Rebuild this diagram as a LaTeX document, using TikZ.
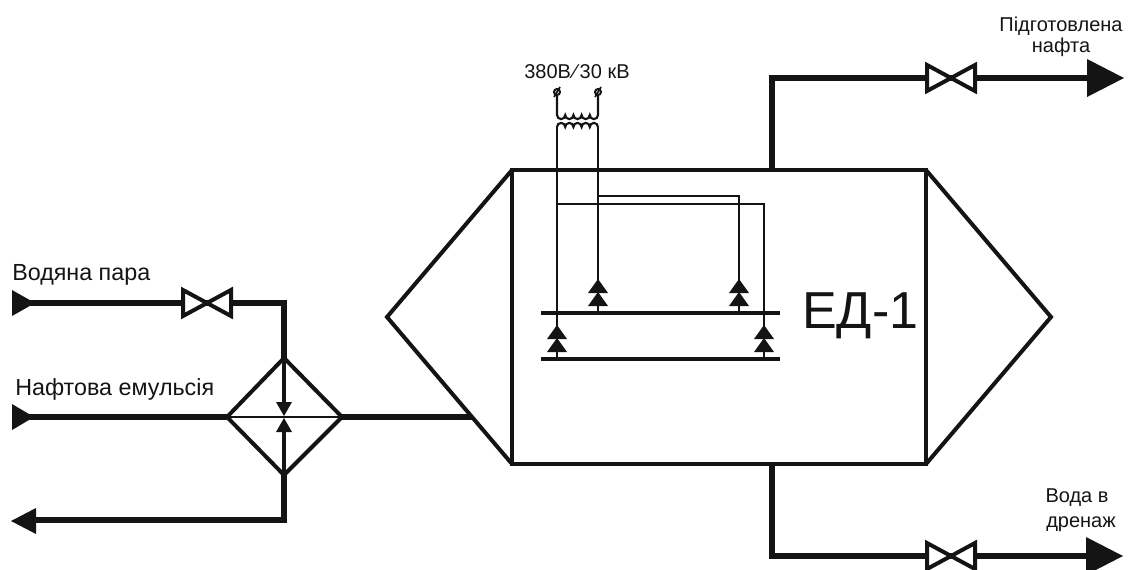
\documentclass[tikz,border=0pt]{standalone}
\usepackage{fontspec}
\setmainfont{Liberation Sans}
\newcommand{\pxfont}[1]{\fontsize{\fpeval{#1*0.75}}{\fpeval{#1*0.9}}\selectfont}
\newcommand{\valvebow}[2]{\draw[valveline] (#1-24,#2-13) -- (#1+24,#2+13) -- (#1+24,#2-13) -- (#1-24,#2+13) -- cycle;}
\newcommand{\twotri}[2]{%
 \fill[ink] (#1,#2) -- (#1+10,#2+14) -- (#1-10,#2+14) -- cycle;
 \fill[ink] (#1,#2+13) -- (#1+10,#2+27) -- (#1-10,#2+27) -- cycle;}
\newcommand{\termin}[2]{\draw[thinline,line width=1.5pt,fill=white] (#1,#2) circle (3);
 \draw[thinline,line width=1.3pt] (#1-3,#2+5) -- (#1+3,#2-5);}
\definecolor{ink}{HTML}{141414}
\tikzset{
 x=0.75pt,y=-0.75pt,
 pipe/.style={draw=ink,line width=5pt},
 boxline/.style={draw=ink,line width=3pt,line join=miter},
 valveline/.style={draw=ink,line width=3pt,fill=white,line join=miter},
 thinline/.style={draw=ink,line width=1.6pt},
 midline/.style={draw=ink,line width=3pt},
 lbl/.style={text=ink,inner sep=0pt,font=\pxfont{23.3}},
 lblsmall/.style={text=ink,inner sep=0pt,align=center,font=\pxfont{20}},
}
\begin{document}
\begin{tikzpicture}
\useasboundingbox (0,0) rectangle (1130,569);
% vessel
\coordinate (nw) at (512,170); \coordinate (ne) at (926,170);
\coordinate (se) at (926,464); \coordinate (sw) at (512,464);
\coordinate (lp) at (387,317); \coordinate (rp) at (1051,317);
\draw[boxline] (nw) -- (ne) -- (se) -- (sw) -- cycle;
\draw[boxline] (nw) -- (lp) -- (sw);
\draw[boxline] (ne) -- (rp) -- (se);
% outlet top
\coordinate (t0) at (772,170); \coordinate (t1) at (772,78); \coordinate (t2) at (1095,78);
\draw[pipe] (t0) -- (t1) -- (t2);
\valvebow{951}{78}
\fill[ink] (1087,59) -- (1124,78) -- (1087,97) -- cycle;
% outlet bottom
\coordinate (b0) at (772,464); \coordinate (b1) at (772,556); \coordinate (b2) at (1095,556);
\draw[pipe] (b0) -- (b1) -- (b2);
\valvebow{951}{556}
\fill[ink] (1086,537) -- (1123,556) -- (1086,575) -- cycle;
% steam
\coordinate (s0) at (25,303); \coordinate (s1) at (284,303); \coordinate (dt) at (284,358);
\coordinate (dl) at (227,417); \coordinate (dr) at (342,417); \coordinate (db) at (284,475);
\coordinate (e0) at (25,417); \coordinate (e1) at (472,417);
\coordinate (o1) at (284,520); \coordinate (o2) at (30,520);
\draw[pipe] (s0) -- (s1) -- (dt);
\valvebow{207}{303}
\fill[ink] (12,290) -- (35,303) -- (12,316) -- cycle;
% emulsion
\draw[pipe] (e0) -- (dl);
\draw[pipe] (dr) -- (e1);
\fill[ink] (12,404) -- (34,417) -- (12,430) -- cycle;
% heat exchanger
\draw[boxline] (dt) -- (dr) -- (db) -- (dl) -- cycle;
\draw[midline,line width=2pt] (dl) -- (dr);
\draw[midline] (dt) -- (284,404);
\draw[midline] (db) -- (284,430);
\fill[ink] (276,402) -- (292,402) -- (284,416) -- cycle;
\fill[ink] (276,432) -- (292,432) -- (284,418) -- cycle;
% return
\draw[pipe] (db) -- (o1) -- (o2);
\fill[ink] (11,521) -- (36,508) -- (36,534) -- cycle;
% electrodes
\coordinate (bar1a) at (541,313); \coordinate (bar1b) at (780,313);
\coordinate (bar2a) at (541,359); \coordinate (bar2b) at (780,359);
\draw[midline] (bar1a) -- (bar1b);
\draw[midline] (bar2a) -- (bar2b);
\draw[thinline] (557,127) -- (557,359);
\draw[thinline] (598,127) -- (598,313);
\draw[thinline] (598,196) -- (739,196) -- (739,313);
\draw[thinline] (557,204) -- (764,204) -- (764,359);
\twotri{557}{325}
\twotri{764}{325}
\twotri{598}{279}
\twotri{739}{279}
% transformer
\draw[thinline] (557,95) -- (557,115)
 arc[start angle=180,end angle=0,radius=4.1] arc[start angle=180,end angle=0,radius=4.1]
 arc[start angle=180,end angle=0,radius=4.1] arc[start angle=180,end angle=0,radius=4.1]
 arc[start angle=180,end angle=0,radius=4.1] -- (598,95);
\draw[thinline] (557,127)
 arc[start angle=180,end angle=360,radius=4.1] arc[start angle=180,end angle=360,radius=4.1]
 arc[start angle=180,end angle=360,radius=4.1] arc[start angle=180,end angle=360,radius=4.1]
 arc[start angle=180,end angle=360,radius=4.1];
\termin{557}{92}
\termin{598}{92}
% labels
\node[lblsmall,anchor=base] (v) at (577,78) {380В\kern2pt⁄\kern2pt 30 кВ};
\node[lblsmall,anchor=base] (p1) at (1061,31) {Підготовлена};
\node[lblsmall,anchor=base] (p2) at (1061,52) {нафта};
\node[lblsmall,anchor=base] (w1) at (1077,502) {Вода в};
\node[lblsmall,anchor=base] (w2) at (1081,527) {дренаж};
\node[lbl,anchor=base west] (a) at (12,280) {Водяна пара};
\node[lbl,anchor=base west] (b) at (15,395) {Нафтова емульсія};
\node[text=ink,inner sep=0pt,anchor=base west,font=\pxfont{52}] (ed) at (802,328) {ЕД-1};
\end{tikzpicture}
\end{document}
